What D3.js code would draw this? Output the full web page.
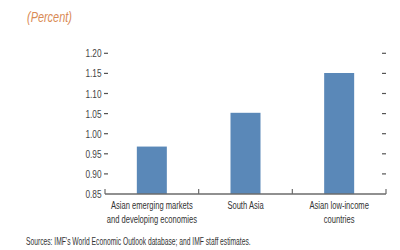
<!DOCTYPE html>
<html>
<head>
<meta charset="utf-8">
<script src="https://d3js.org/d3.v7.min.js"></script>
<style>
  body { margin: 0; background: #fff; }
  svg text { font-family: "Liberation Sans", Arial, sans-serif; }
  .bar { fill: #5a88b8; }
  .tick-lbl { fill: #444; font-size: 11.5px; }
  .cat-lbl { fill: #333; font-size: 11.5px; }
</style>
</head>
<body>
<svg width="400" height="250"></svg>
<script>
var categories = ["Asian emerging markets\nand developing economies", "South Asia", "Asian low-income\ncountries"];
var values = [0.968, 1.052, 1.151];
var yTicks = [0.85, 0.90, 0.95, 1.00, 1.05, 1.10, 1.15, 1.20];

var svg = d3.select("svg");
var mLeft = 105, mRight = 386, mTop = 53.3, mBottom = 194;
var narrow = 0.66; // the original uses a condensed face

var x = d3.scaleBand().domain(categories).range([mLeft, mRight]).padding(0);
var y = d3.scaleLinear().domain([0.85, 1.20]).range([mBottom, mTop]);

function cond(sel, px, py, s) {
  sel.attr("transform", "translate(" + px + "," + py + ") scale(" + s + ",1)");
}

// subtitle
svg.append("text")
  .attr("fill", "#d98a55")
  .attr("font-size", 14)
  .attr("font-style", "italic")
  .text("(Percent)")
  .call(cond, 27, 22, 0.78);

// bars
var barW = 30;
svg.selectAll("rect.bar")
  .data(values)
  .enter().append("rect")
  .attr("class", "bar")
  .attr("x", function(d, i) { return x(categories[i]) + x.bandwidth() / 2 - barW / 2; })
  .attr("y", function(d) { return y(d); })
  .attr("width", barW)
  .attr("height", function(d) { return mBottom - y(d); });

// ticks on both sides
var ticks = svg.append("g");
ticks.selectAll("line.l")
  .data(yTicks.slice(1))
  .enter().append("line")
  .attr("x1", mLeft - 1).attr("x2", mLeft + 3)
  .attr("y1", function(d) { return y(d); }).attr("y2", function(d) { return y(d); })
  .attr("stroke", "#555").attr("stroke-width", 1.2);
ticks.selectAll("line.r")
  .data(yTicks.slice(1))
  .enter().append("line")
  .attr("x1", mRight - 4).attr("x2", mRight)
  .attr("y1", function(d) { return y(d); }).attr("y2", function(d) { return y(d); })
  .attr("stroke", "#555").attr("stroke-width", 1.2);
ticks.selectAll("text")
  .data(yTicks)
  .enter().append("text")
  .attr("class", "tick-lbl")
  .attr("dy", "0.35em")
  .attr("text-anchor", "end")
  .text(function(d) { return d3.format(".2f")(d); })
  .each(function(d) { d3.select(this).call(cond, mLeft - 3.5, y(d), 0.72); });

// baseline with separators
svg.append("line")
  .attr("x1", mLeft).attr("x2", mRight)
  .attr("y1", mBottom).attr("y2", mBottom)
  .attr("stroke", "#6b6b6b").attr("stroke-width", 1.3);
var seps = [mLeft].concat(categories.map(function(c) { return x(c) + x.bandwidth(); }));
svg.selectAll("line.sep")
  .data(seps)
  .enter().append("line")
  .attr("x1", function(d) { return d; }).attr("x2", function(d) { return d; })
  .attr("y1", mBottom - 5).attr("y2", mBottom)
  .attr("stroke", "#6b6b6b").attr("stroke-width", 1.2);

// category labels
svg.selectAll("text.cat-lbl")
  .data(categories)
  .enter().append("text")
  .attr("class", "cat-lbl")
  .attr("text-anchor", "middle")
  .each(function(d) {
    var t = d3.select(this).call(cond, x(d) + x.bandwidth() / 2, 209, narrow);
    d.split("\n").forEach(function(s, i) {
      t.append("tspan").attr("x", 0).attr("y", i * 14).text(s);
    });
  });

// source
svg.append("text")
  .attr("font-size", 10.5)
  .attr("fill", "#333")
  .text("Sources: IMF's World Economic Outlook database; and IMF staff estimates.")
  .call(cond, 26, 245, 0.64);
</script>
</body>
</html>
